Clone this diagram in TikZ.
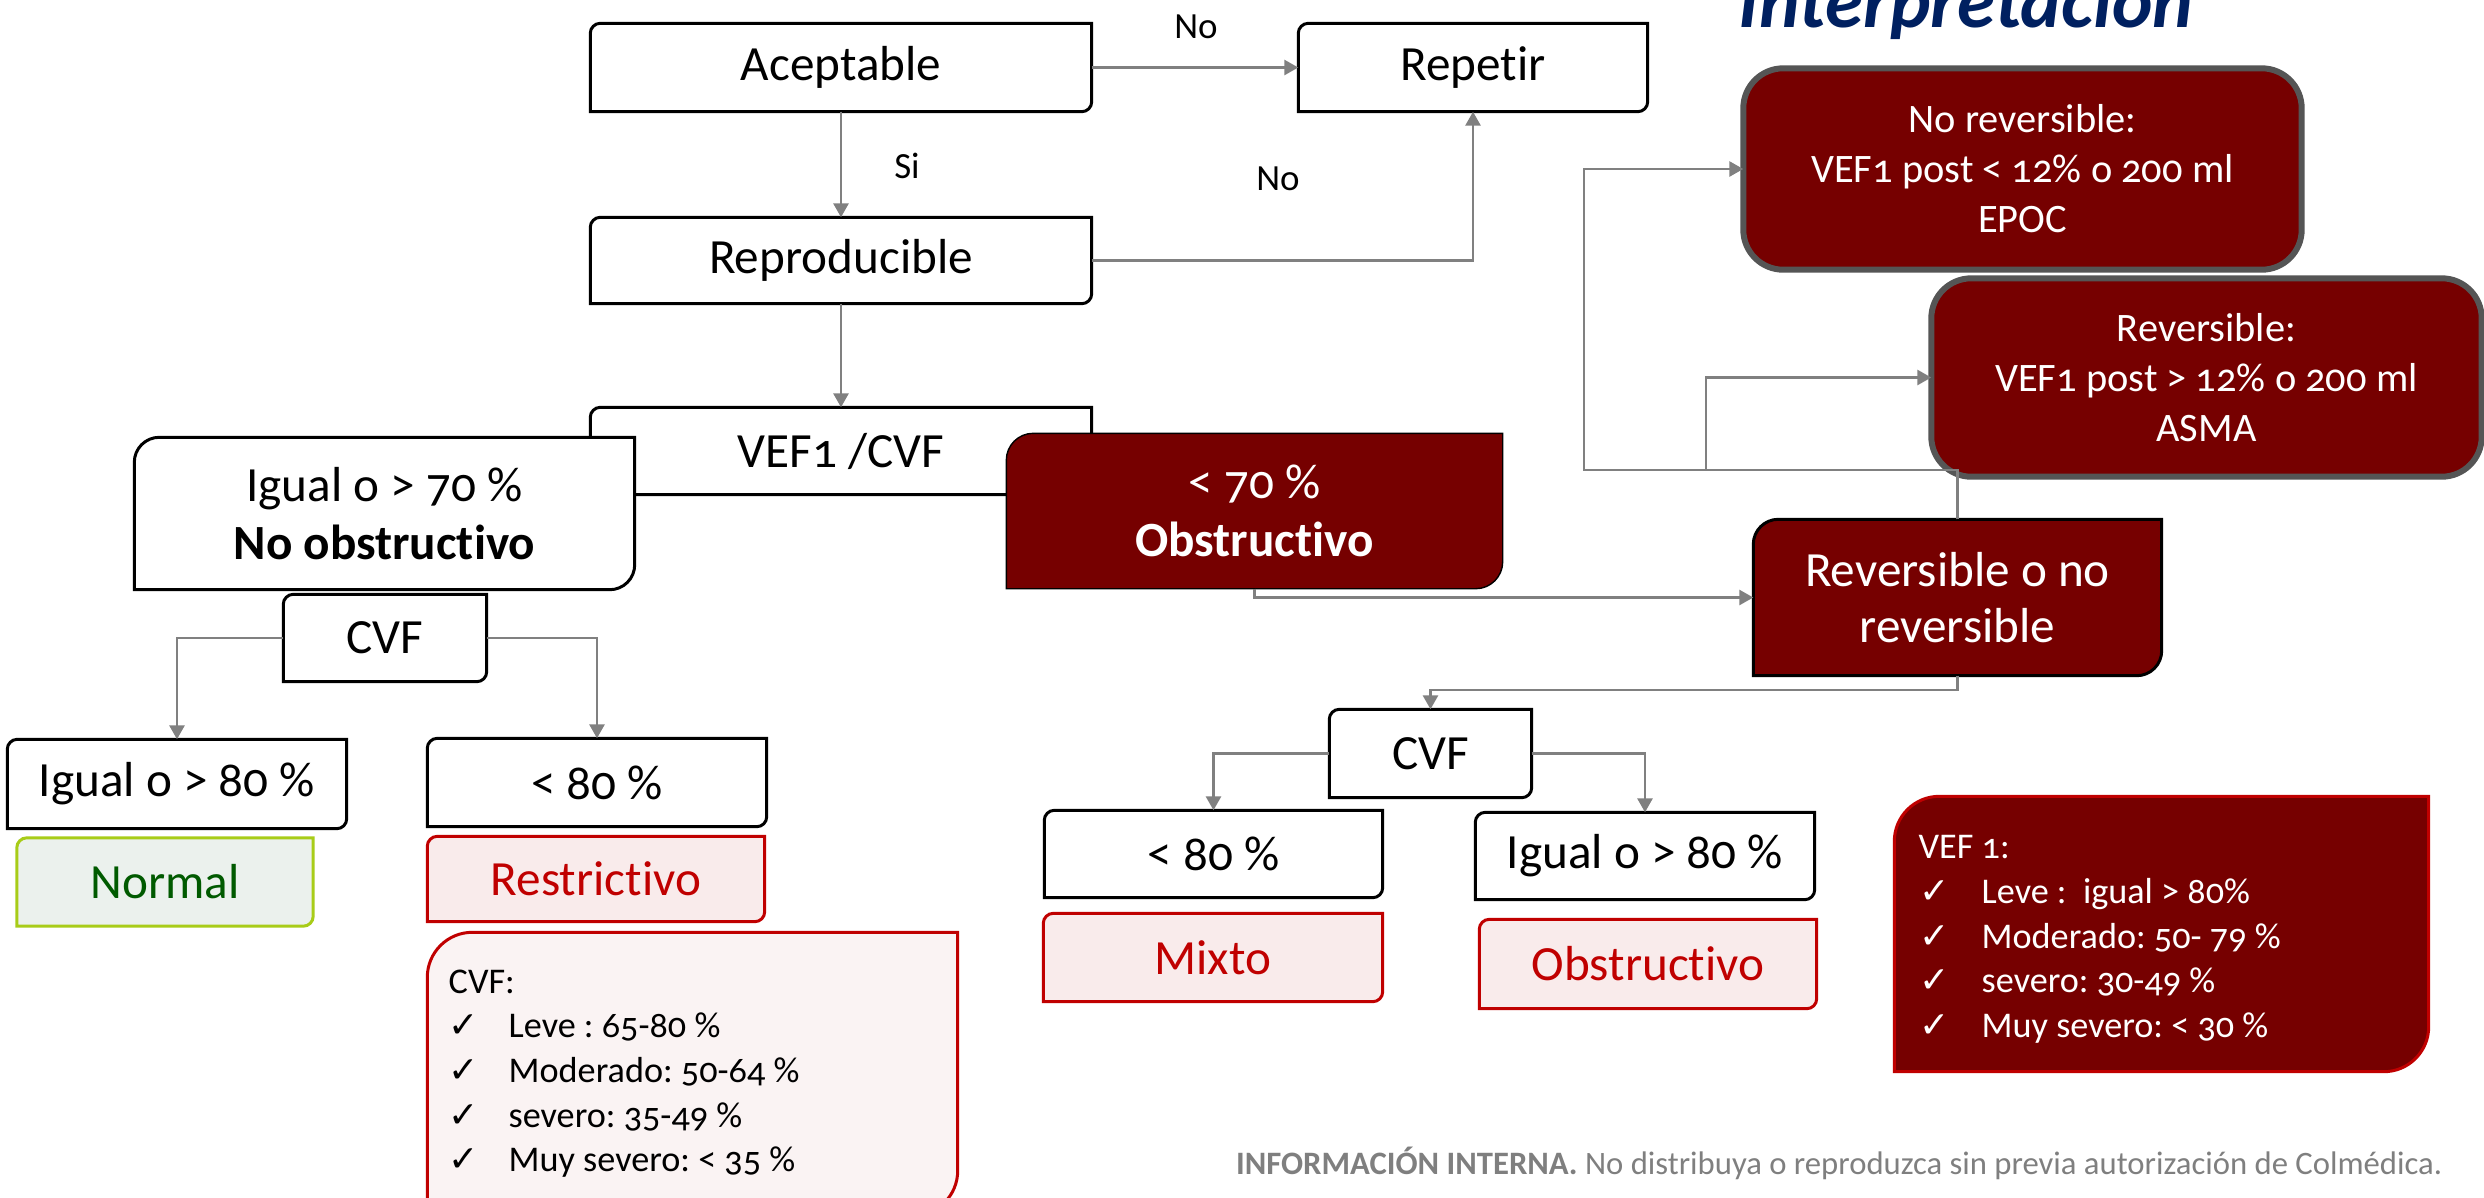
\documentclass[tikz,border=0pt]{standalone}
\usepackage{fontspec}
\setmainfont{Carlito}[Numbers=OldStyle, Ligatures=NoCommon]
\newfontfamily\checkfont{DejaVu Sans}
\usetikzlibrary{arrows.meta,backgrounds}
\frenchspacing

\definecolor{wine}{RGB}{118,0,0}
\definecolor{alertred}{RGB}{192,0,0}
\definecolor{pinkfill}{RGB}{249,235,235}
\definecolor{listfill}{RGB}{250,243,243}
\definecolor{leafgreen}{RGB}{168,204,24}
\definecolor{mintfill}{RGB}{235,241,237}
\definecolor{okgreen}{RGB}{0,90,0}
\definecolor{connector}{RGB}{128,128,128}
\definecolor{titleblue}{RGB}{0,32,96}
\definecolor{slate}{RGB}{85,85,85}
\definecolor{notegray}{RGB}{127,127,127}

% box with rounded top left and bottom right corners
\newcommand{\cornerbox}[3][]{%
  \begin{pgfonlayer}{background}
    \draw[#1] (#2.south west) -- ([yshift=-#3]#2.north west)
      arc[start angle=180,end angle=90,radius=#3] -- (#2.north east)
      -- ([yshift=#3]#2.south east)
      arc[start angle=0,end angle=-90,radius=#3] -- cycle;
  \end{pgfonlayer}}
\newcommand{\tick}[2]{\hspace*{#1}\makebox[#2][l]{\checkfont ✓}}

\tikzset{
  boxtext/.style={inner sep=0pt, align=center, font=\fontsize{14}{16.5}\selectfont},
  smalltext/.style={inner sep=0pt, font=\fontsize{10.5}{12}\selectfont},
  listtext/.style={inner sep=0pt, align=left, font=\fontsize{10.3}{12.7}\selectfont},
  plainbox/.style={draw=black, line width=0.85pt, fill=white},
  winebox/.style={fill=wine},
  alertbox/.style={draw=alertred, line width=0.85pt, fill=pinkfill},
  link/.style={draw=connector, line width=0.8pt, -{Triangle[width=0.15cm,length=0.14cm]}},
}

\begin{document}
\begin{tikzpicture}
  \useasboundingbox (0,0) rectangle (24.84,-11.97);

  % upper chain
  \node[boxtext, minimum width=5cm, minimum height=0.87cm] (acep) at (8.41,-0.675) {Aceptable};
  \cornerbox[plainbox]{acep}{0.1cm}
  \node[boxtext, minimum width=3.48cm, minimum height=0.87cm] (repetir) at (14.73,-0.675) {Repetir};
  \cornerbox[plainbox]{repetir}{0.1cm}
  \node[boxtext, minimum width=5cm, minimum height=0.85cm] (repro) at (8.41,-2.605) {Reproducible};
  \cornerbox[plainbox]{repro}{0.1cm}
  \node[boxtext, minimum width=5cm, minimum height=0.86cm] (vefcvf) at (8.41,-4.51) {VEF1 /CVF};
  \cornerbox[plainbox]{vefcvf}{0.1cm}

  \node[boxtext, minimum width=4.99cm, minimum height=1.51cm] (noobs) at (3.845,-5.135)
    {Igual o > 70 \%\\ \textbf{No obstructivo}};
  \cornerbox[plainbox]{noobs}{0.25cm}
  \node[boxtext, text=white, minimum width=4.95cm, minimum height=1.54cm] (obs) at (12.545,-5.11)
    {< 70 \%\\ \textbf{Obstructivo}};
  \cornerbox[winebox]{obs}{0.27cm}

  \node[smalltext] (lblno) at (11.96,-0.27) {No};
  \node[smalltext] (lblsi) at (9.07,-1.66) {Si};
  \node[smalltext] (lblno2) at (12.78,-1.79) {No};

  % left branch
  \node[boxtext, minimum width=2.02cm, minimum height=0.86cm] (cvfl) at (3.85,-6.38) {CVF};
  \cornerbox[plainbox]{cvfl}{0.1cm}
  \node[boxtext, minimum width=3.38cm, minimum height=0.88cm] (ig80l) at (1.77,-7.84) {Igual o > 80 \%};
  \cornerbox[plainbox]{ig80l}{0.1cm}
  \node[boxtext, minimum width=3.38cm, minimum height=0.87cm] (lt80l) at (5.97,-7.825) {< 80 \%};
  \cornerbox[plainbox]{lt80l}{0.1cm}
  \node[boxtext, text=okgreen, minimum width=2.95cm, minimum height=0.87cm] (normal) at (1.65,-8.82) {Normal};
  \cornerbox[draw=leafgreen, line width=0.85pt, fill=mintfill]{normal}{0.1cm}
  \node[boxtext, text=alertred, minimum width=3.36cm, minimum height=0.84cm] (restr) at (5.96,-8.79) {Restrictivo};
  \cornerbox[alertbox]{restr}{0.1cm}
  \node[minimum width=5.29cm, minimum height=2.82cm] (cvfbox) at (6.925,-10.74) {};
  \cornerbox[draw=alertred, line width=0.85pt, fill=listfill]{cvfbox}{0.45cm}
  \node[listtext, anchor=north west] (cvflines) at (4.48,-9.69)
    {CVF:\\
     \tick{0cm}{0.6cm}Leve : 65-80 \%\\
     \tick{0cm}{0.6cm}Moderado: 50-64 \%\\
     \tick{0cm}{0.6cm}severo: 35-49 \%\\
     \tick{0cm}{0.6cm}Muy severo: < 35 \%};

  % right side
  \node[font=\fontsize{21.9}{24}\selectfont\bfseries\itshape, text=titleblue, inner sep=0pt, anchor=base west]
    (title) at (17.38,-0.27) {Interpretación};
  \node[boxtext, font=\fontsize{11.5}{14.2}\selectfont, text=white, minimum width=5.57cm, minimum height=2cm]
    (noreve) at (20.225,-1.69) {No reversible:\\ VEF1 post < 12\% o 200 ml\\ EPOC};
  \begin{pgfonlayer}{background}
    \draw[draw=slate, line width=1.7pt, fill=wine, rounded corners=0.4cm] (noreve.south west) rectangle (noreve.north east);
  \end{pgfonlayer}
  \node[boxtext, font=\fontsize{11.5}{14.2}\selectfont, text=white, minimum width=5.49cm, minimum height=1.97cm]
    (reve) at (22.065,-3.775) {Reversible:\\ VEF1 post > 12\% o 200 ml\\ ASMA};
  \begin{pgfonlayer}{background}
    \draw[draw=slate, line width=1.7pt, fill=wine, rounded corners=0.4cm] (reve.south west) rectangle (reve.north east);
  \end{pgfonlayer}
  \node[boxtext, font=\fontsize{14}{16}\selectfont, text=white, minimum width=4.07cm, minimum height=1.55cm]
    (revno) at (19.575,-5.975) {Reversible o no\\ reversible};
  \cornerbox[winebox, draw=black, line width=0.85pt]{revno}{0.25cm}

  \node[boxtext, minimum width=2.01cm, minimum height=0.87cm] (cvfr) at (14.305,-7.535) {CVF};
  \cornerbox[plainbox]{cvfr}{0.1cm}
  \node[boxtext, minimum width=3.37cm, minimum height=0.86cm] (lt80r) at (12.135,-8.54) {< 80 \%};
  \cornerbox[plainbox]{lt80r}{0.1cm}
  \node[boxtext, minimum width=3.38cm, minimum height=0.86cm] (ig80r) at (16.45,-8.56) {Igual o > 80 \%};
  \cornerbox[plainbox]{ig80r}{0.1cm}
  \node[boxtext, text=alertred, minimum width=3.38cm, minimum height=0.87cm] (mixto) at (12.13,-9.575) {Mixto};
  \cornerbox[alertbox]{mixto}{0.1cm}
  \node[boxtext, text=alertred, minimum width=3.36cm, minimum height=0.88cm] (obsr) at (16.48,-9.64) {Obstructivo};
  \cornerbox[alertbox]{obsr}{0.1cm}

  \node[minimum width=5.33cm, minimum height=2.74cm] (vefbox) at (21.615,-9.34) {};
  \cornerbox[draw=alertred, line width=0.85pt, fill=wine]{vefbox}{0.45cm}
  \node[listtext, text=white, anchor=north west] (veflines) at (19.18,-8.35)
    {VEF 1:\\
     \tick{0.01cm}{0.62cm}Leve :\ \ igual > 80\%\\
     \tick{0.01cm}{0.62cm}Moderado: 50- 79 \%\\
     \tick{0.01cm}{0.62cm}severo: 30-49 \%\\
     \tick{0.01cm}{0.62cm}Muy severo: < 30 \%};

  \node[font=\fontsize{9.3}{11}\selectfont, text=notegray, inner sep=0pt, anchor=east] (note) at (24.43,-11.63)
    {\textbf{INFORMACIÓN INTERNA.} No distribuya o reproduzca sin previa autorización de Colmédica.};

  % connectors
  \coordinate (splitA) at (15.84,-4.70);
  \coordinate (splitB) at (17.06,-4.70);
  \coordinate (splitC) at (14.305,-6.90);
  \draw[link] (acep) -- (repro);
  \draw[link] (repro) -- (vefcvf);
  \draw[link] (acep) -- (repetir);
  \draw[link] (repro.east) -| (repetir.south);
  \draw[link] (cvfl.west) -| (ig80l.north);
  \draw[link] (cvfl.east) -| (lt80l.north);
  \draw[link] (obs.south) |- (revno.west);
  \draw[link] (revno.north) |- (splitA) |- (noreve.west);
  \draw[link] (revno.north) |- (splitB) |- (reve.west);
  \draw[link] (revno.south) |- (splitC) -- (cvfr.north);
  \draw[link] (cvfr.west) -| (lt80r.north);
  \draw[link] (cvfr.east) -| (ig80r.north);
\end{tikzpicture}
\end{document}
